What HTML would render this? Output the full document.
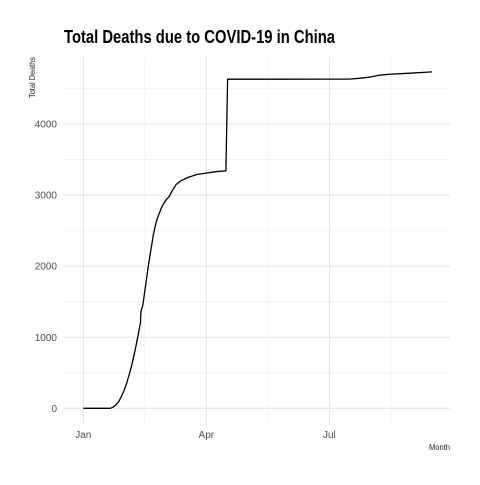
<!DOCTYPE html>
<html><head><meta charset="utf-8"><style>
body{margin:0;background:#fff}
svg text{font-family:"Liberation Sans",sans-serif}
</style></head><body>
<svg id="c" width="480" height="480">
<text x="64" y="43" font-size="18" font-weight="bold" fill="#000" textLength="271" lengthAdjust="spacingAndGlyphs">Total Deaths due to COVID-19 in China</text>
<text transform="translate(35,98) rotate(-90)" font-size="8" fill="#222" textLength="41" lengthAdjust="spacingAndGlyphs">Total Deaths</text>
<text x="450" y="450" font-size="8" text-anchor="end" fill="#222" textLength="21" lengthAdjust="spacingAndGlyphs">Month</text>
<g id="grid"></g><g id="ticks"></g><g id="series"></g>
</svg>
<script>
const dayOffsets=[0,20,22,24,26,28,30,32,34,36,38,40,41.4,42.3,42.6,44,46.3,48,50,52,53.7,55,56.2,58,60,62,63.6,66,68.5,72,77.2,84,90.7,98,105.5,106.7,150,180,196.7,204,211.5,218,224.9,240,258];
const deaths=[0,0,15,45,90,160,245,350,480,620,790,980,1117,1200,1360,1450,1760,1990,2230,2460,2605,2690,2746,2830,2900,2950,2981,3070,3146,3200,3249,3290,3310,3330,3343,4632,4632,4633,4634,4645,4660,4685,4700,4715,4734];
const yTicks=[0,1000,2000,3000,4000];
const xTickDays=[0,91,182];
const xTickLabels=["Jan","Apr","Jul"];
const NS="http://www.w3.org/2000/svg";
const x=d=>83.3+d*1.352;
const y=v=>408.3-v*0.07105;
const L=63,R=450,T=57,B=425;
function mk(t,a,p){const e=document.createElementNS(NS,t);for(const k in a)e.setAttribute(k,a[k]);p.appendChild(e);return e;}
const g=document.getElementById('grid'),tk=document.getElementById('ticks'),s=document.getElementById('series');
for(let v=-500;v<=5000;v+=500){const yy=y(v);if(yy<T||yy>B)continue;
 const major=v%1000===0;
 const ln=mk('line',{x1:L,x2:R,y1:yy,y2:yy,stroke:major?'#e3e3e3':'#efefef','stroke-width':major?1:0.7},g);
 
 }
for(let i=0;i<xTickDays.length;i++){
 const xs=[x(xTickDays[i]),x(xTickDays[i]+45.5)];
 xs.forEach((xx,j)=>{if(xx>R)return;
  const ln=mk('line',{x1:xx,x2:xx,y1:T,y2:B,stroke:j?'#efefef':'#e3e3e3','stroke-width':j?0.7:1},g);
  
  });
 const t=mk('text',{x:x(xTickDays[i]),y:438,'font-size':10,'text-anchor':'middle',fill:'#4d4d4d'},tk);
 t.textContent=xTickLabels[i];
 
 }
yTicks.forEach(v=>{const t=mk('text',{x:57,y:y(v)+3.5,'font-size':10,'text-anchor':'end',fill:'#4d4d4d'},tk);
 t.textContent=v;
 
 });
const pts=dayOffsets.map((d,i)=>x(d).toFixed(1)+','+y(deaths[i]).toFixed(1)).join(' ');
const pl=mk('polyline',{points:pts,fill:'none',stroke:'#000','stroke-width':1.3,'stroke-linejoin':'round'},s);


</script>
</body></html>
